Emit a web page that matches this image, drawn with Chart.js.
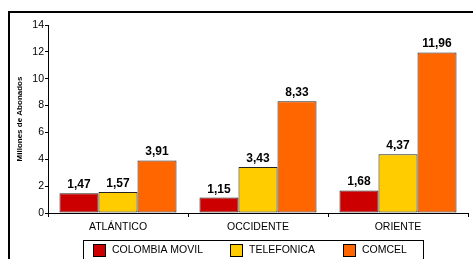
<!DOCTYPE html>
<html>
<head>
<meta charset="utf-8">
<script src="https://cdn.jsdelivr.net/npm/chart.js@4/dist/chart.umd.min.js"></script>
<style>
    html, body { margin: 0; padding: 0; background: #fff; }
    #wrap { width: 473px; height: 259px; }
</style>
</head>
<body>
<div id="wrap"><canvas id="chart" width="473" height="259"></canvas></div>
<script>
// regions and operators (millions of subscribers)
const regiones = ['ATLÁNTICO', 'OCCIDENTE', 'ORIENTE'];
const colombiaMovil = [1.47, 1.15, 1.68];
const telefonica = [1.57, 3.43, 4.37];
const comcel = [3.91, 8.33, 11.96];
const yTicks = [0, 2, 4, 6, 8, 10, 12, 14];

const FONT = 'Arial, "Liberation Sans", sans-serif';

// value labels above each bar, comma decimals
const valueLabels = {
    id: 'valueLabels',
    afterDatasetsDraw(chart) {
        const ctx = chart.ctx;
        ctx.save();
        ctx.font = 'bold 12px ' + FONT;
        ctx.fillStyle = '#000';
        ctx.textAlign = 'center';
        ctx.textBaseline = 'alphabetic';
        chart.data.datasets.forEach((ds, i) => {
            chart.getDatasetMeta(i).data.forEach((bar, j) => {
                ctx.fillText(ds.data[j].toFixed(2).replace('.', ','), bar.x, bar.y - 5);
            });
        });
        ctx.restore();
    }
};

// outer frame + boxed legend like the original
const frameAndLegend = {
    id: 'frameAndLegend',
    beforeDraw(chart) {
        const ctx = chart.ctx;
        ctx.save();
        ctx.fillStyle = '#fff';
        ctx.fillRect(0, 0, chart.width, chart.height);
        ctx.restore();
    },
    afterDraw(chart) {
        const ctx = chart.ctx;
        ctx.save();
        ctx.strokeStyle = '#000';
        ctx.lineWidth = 2;
        ctx.strokeRect(9, 12, chart.width + 10, chart.height + 10);

        // legend box
        ctx.lineWidth = 1;
        ctx.strokeRect(83.5, 240.5, 340, 30);
        const xs = [93, 230, 343];
        ctx.font = '10.5px ' + FONT;
        ctx.textBaseline = 'middle';
        ctx.textAlign = 'left';
        chart.data.datasets.forEach((ds, i) => {
            ctx.fillStyle = ds.backgroundColor;
            ctx.fillRect(xs[i] + 0.5, 244.5, 12, 12);
            ctx.strokeStyle = '#000';
            ctx.strokeRect(xs[i] + 0.5, 244.5, 12, 12);
            ctx.fillStyle = '#000';
            ctx.fillText(ds.label, xs[i] + 19, 250);
        });
        ctx.restore();
    }
};

new Chart(document.getElementById('chart'), {
    type: 'bar',
    data: {
        labels: regiones,
        datasets: [
            { label: 'COLOMBIA MOVIL', data: colombiaMovil, backgroundColor: '#CC0000' },
            { label: 'TELEFONICA', data: telefonica, backgroundColor: '#FFCC00' },
            { label: 'COMCEL', data: comcel, backgroundColor: '#FF6600' }
        ].map(ds => ({ ...ds, borderColor: '#222', borderWidth: 1, borderSkipped: false,
            categoryPercentage: 0.836, barPercentage: 1 }))
    },
    options: {
        responsive: false,
        animation: false,
        devicePixelRatio: 1,
        layout: { padding: { left: 0, right: 5, top: 25, bottom: 0 } },
        scales: {
            x: {
                grid: { display: true, offset: true, drawOnChartArea: false, drawTicks: true, tickLength: 4, color: '#000' },
                border: { display: true, color: '#000', width: 1 },
                ticks: { color: '#000', font: { family: FONT, size: 10.5 }, padding: 4, maxRotation: 0 },
                afterFit(scale) { scale.height = 46; }
            },
            y: {
                min: 0, max: 14,
                afterBuildTicks(scale) { scale.ticks = yTicks.map(v => ({ value: v })); },
                grid: { display: true, drawOnChartArea: false, drawTicks: true, tickLength: 3, color: '#000' },
                border: { display: true, color: '#000', width: 1 },
                ticks: { color: '#000', font: { family: FONT, size: 10.5 }, padding: 1 },
                title: { display: true, text: 'Millones de Abonados', color: '#000',
                    font: { family: FONT, size: 8, weight: 'bold' }, padding: { top: 15, bottom: 0 } },
                afterFit(scale) { scale.width = 48; }
            }
        },
        plugins: {
            legend: { display: false },
            tooltip: { enabled: false }
        }
    },
    plugins: [valueLabels, frameAndLegend]
});
</script>
</body>
</html>
